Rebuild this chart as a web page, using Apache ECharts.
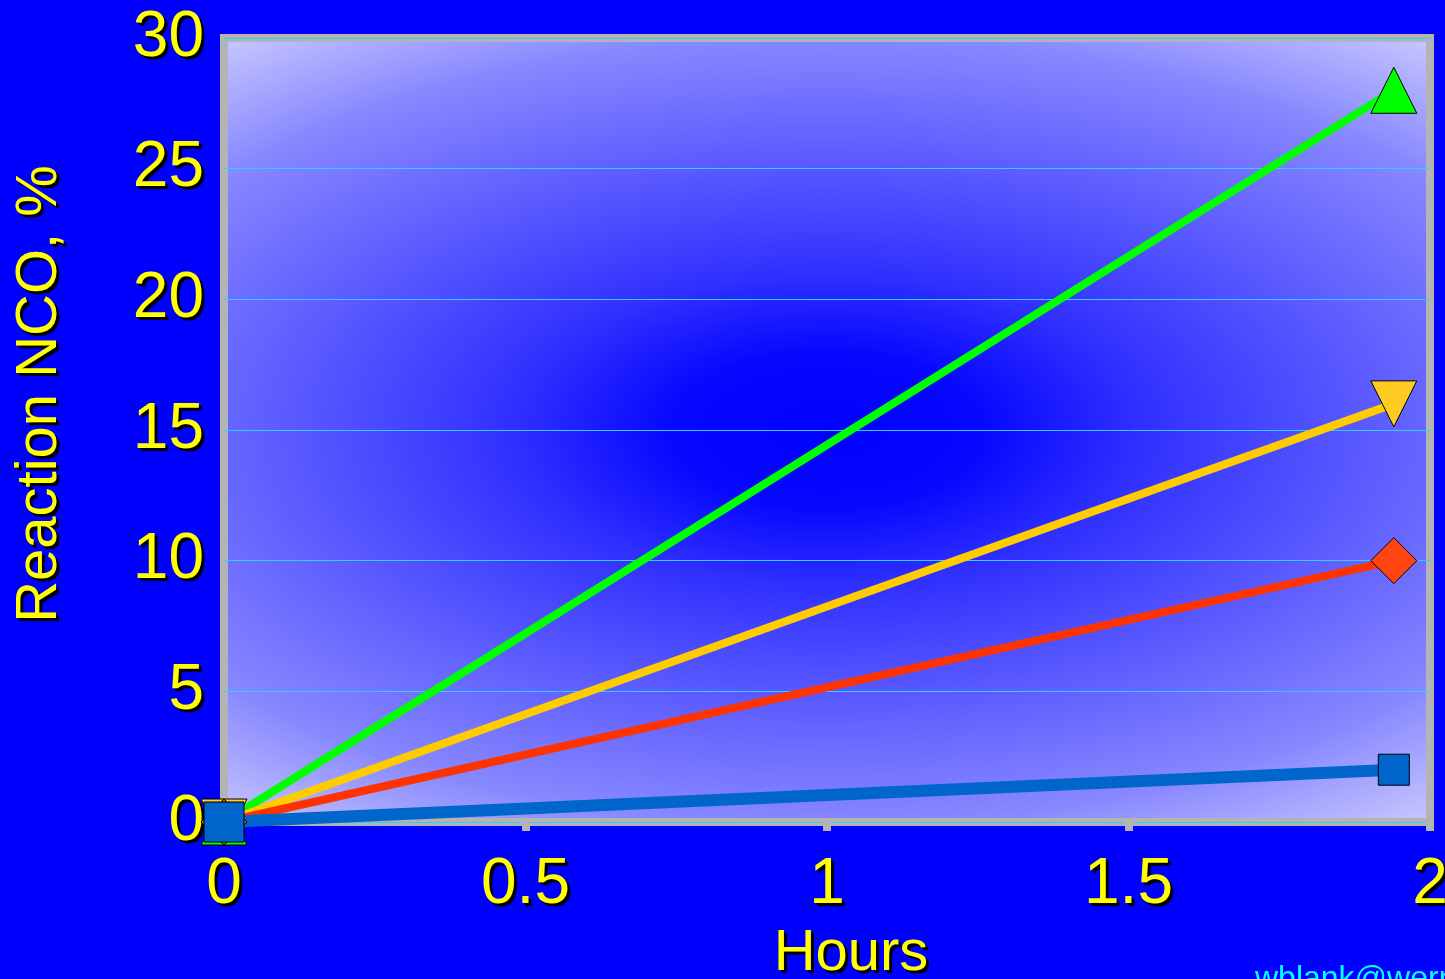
<!DOCTYPE html>
<html>
<head>
<meta charset="utf-8">
<script src="https://cdn.jsdelivr.net/npm/echarts@6/dist/echarts.min.js"></script>
<style>
html,body{margin:0;padding:0;background:#0000ff;}
#chart{width:1445px;height:979px;}
</style>
</head>
<body>
<div id="chart"></div>
<script>
// ---- data ----
const hours = [0, 1.94];
const seriesNames = ['Green', 'Yellow', 'Red', 'Blue'];
const greenValues = [0, 28];
const yellowValues = [0, 16];
const redValues = [0, 10];
const blueValues = [0, 2];
const xTicks = ['0', '0.5', '1', '1.5', '2'];
const yTicks = ['0', '5', '10', '15', '20', '25', '30'];
const yTitle = 'Reaction NCO, %';
const xTitle = 'Hours';
const footer = 'wblank@wernerblank.com';

const chart = echarts.init(document.getElementById('chart'), null, {renderer: 'canvas'});

const G = {left: 224, top: 38, right: 1430, bottom: 822};
const W = G.right - G.left, H = G.bottom - G.top;
const cx = (G.left + G.right) / 2, cy = (G.top + G.bottom) / 2;
const k = 2.0; // horizontal stretch of elliptical gradient
const R = H / 2 * 1.3;

function pairs(vals) { return hours.map((h, i) => [h, vals[i]]); }

const font = "'Liberation Sans', Arial, sans-serif";
const shadow = {textShadowColor: '#000', textShadowOffsetX: 3, textShadowOffsetY: 3, textShadowBlur: 1};
const gShadow = {textShadowColor: '#000', textShadowOffsetX: 3, textShadowOffsetY: 3, textShadowBlur: 1};

function mkSeries(name, vals, lineColor, fill, symbol, size, width, rotate) {
  return {
    name: name, type: 'line', data: pairs(vals),
    symbol: symbol, symbolSize: size, symbolRotate: rotate || 0,
    lineStyle: {color: lineColor, width: width},
    itemStyle: {color: fill, borderColor: '#000', borderWidth: 1},
    showAllSymbol: true, animation: false
  };
}

const option = {
  backgroundColor: '#0000ff',
  animation: false,
  grid: {left: G.left, top: G.top, width: W, height: H, show: true,
         borderColor: '#b4b4b4', borderWidth: 8, backgroundColor: 'transparent',
         containLabel: false, outerBoundsMode: 'none'},
  xAxis: {
    type: 'value', min: 0, max: 2, interval: 0.5,
    axisLine: {show: false},
    axisTick: {show: true, length: 9, lineStyle: {color: '#b4b4b4', width: 8}},
    splitLine: {show: false},
    axisLabel: Object.assign({color: '#ffff00', fontSize: 64, fontFamily: font, margin: 31,
      showMinLabel: true, showMaxLabel: true, hideOverlap: false,
      formatter: v => xTicks[Math.round(v / 0.5)]}, shadow)
  },
  yAxis: {
    type: 'value', min: 0, max: 30, interval: 5,
    axisLine: {show: false},
    axisTick: {show: false},
    splitLine: {show: true, lineStyle: {color: '#33ccff', width: 1}},
    axisLabel: Object.assign({color: '#ffff00', fontSize: 64, fontFamily: font, margin: 20,
      formatter: v => yTicks[Math.round(v / 5)]}, shadow)
  },
  graphic: [
    {
      type: 'rect', z: -10, silent: true,
      x: cx, y: cy, scaleX: k, scaleY: 1,
      shape: {x: -W / 2 / k, y: -H / 2, width: W / k, height: H},
      style: {
        fill: new echarts.graphic.RadialGradient(0, 0, R, [
          {offset: 0, color: '#0000ff'},
          {offset: 0.154, color: '#0808ff'},
          {offset: 0.308, color: '#3030ff'},
          {offset: 0.538, color: '#5c5cff'},
          {offset: 0.769, color: '#8787ff'},
          {offset: 1, color: '#d1d1ff'}
        ], true)
      }
    },
    {
      type: 'text', silent: true, z: 10,
      x: 40, y: 394, rotation: Math.PI / 2,
      style: Object.assign({text: yTitle, fill: '#ffff00', font: '58px ' + font,
        align: 'center', verticalAlign: 'middle'}, gShadow)
    },
    {
      type: 'text', silent: true, z: 10,
      x: 851, y: 954,
      style: Object.assign({text: xTitle, fill: '#ffff00', font: '58px ' + font,
        align: 'center', verticalAlign: 'middle'}, gShadow)
    },
    {
      type: 'text', silent: true, z: 10,
      x: 1255, y: 979,
      style: {text: footer, fill: '#00ffff', font: '32px ' + font,
        align: 'left', verticalAlign: 'middle'}
    }
  ],
  series: [
    mkSeries(seriesNames[0], greenValues, '#00ff00', '#00ff00', 'triangle', 46, 8),
    mkSeries(seriesNames[1], yellowValues, '#ffcc00', '#ffcc22', 'triangle', 46, 8, 180),
    mkSeries(seriesNames[2], redValues, '#ff3300', '#ff4411', 'diamond', 46, 8),
    Object.assign(mkSeries(seriesNames[3], blueValues, '#0066cc', '#0066cc', 'rect', 31, 12),
      {symbolSize: (v, p) => p.dataIndex === 0 ? 40 : 31})
  ]
};
chart.setOption(option);
</script>
</body>
</html>
